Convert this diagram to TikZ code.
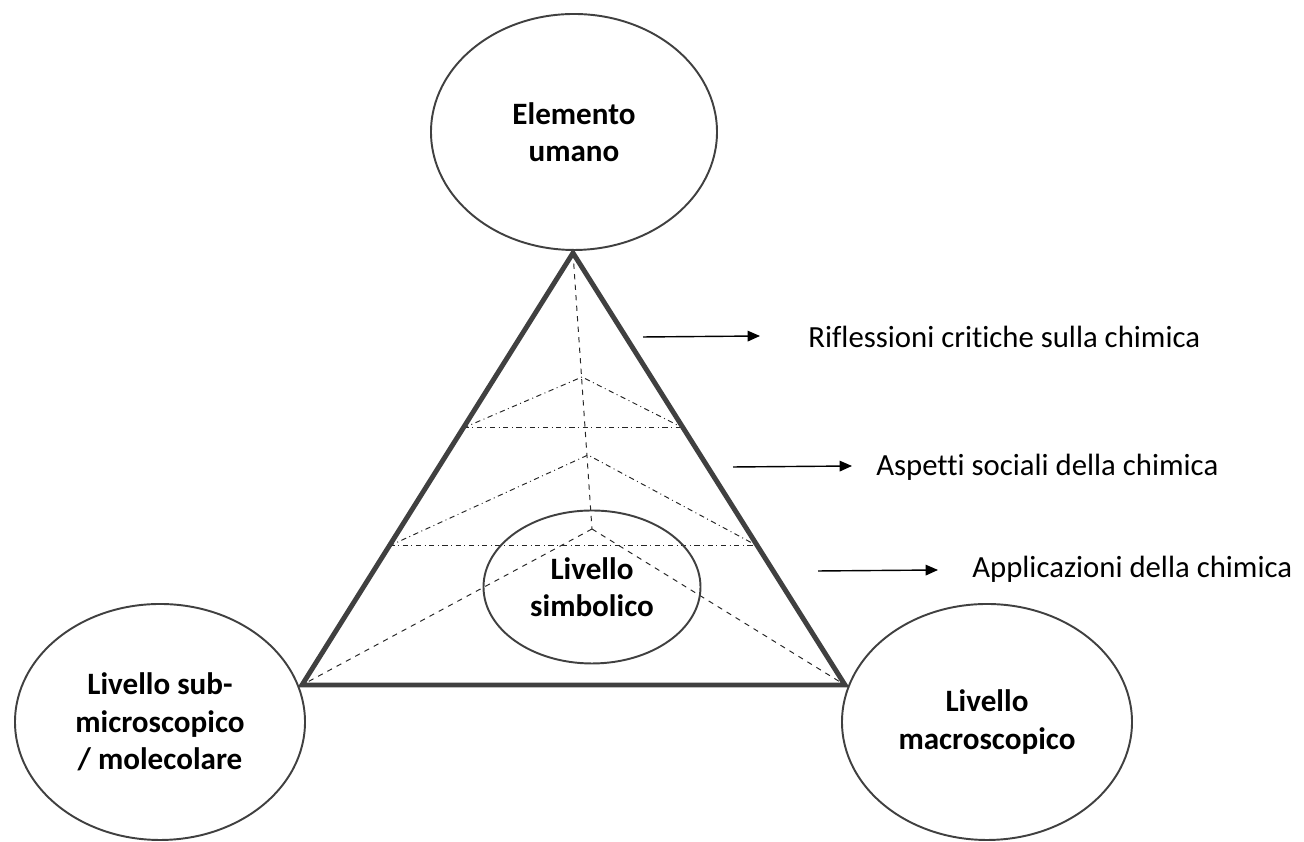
\documentclass[tikz,border=0pt]{standalone}
\usepackage{fontspec}
\setmainfont[Ligatures=NoCommon]{Carlito}
\usepackage{xcolor}
\usepackage{tikz}
\usetikzlibrary{arrows.meta}
\usetikzlibrary{shapes.geometric, calc}

\definecolor{linegray}{HTML}{404040}

\begin{document}
\begin{tikzpicture}[
    level/.style={ellipse, draw=linegray, line width=1.1pt, align=center,
        font=\fontsize{17.7}{21.2}\selectfont\bfseries},
    layer/.style={anchor=west, inner sep=0pt, font=\fontsize{17.5}{21}\selectfont},
    pointer/.style={-{Triangle[length=7pt,width=6pt]}, line width=0.8pt},
    guide/.style={line width=0.55pt, black!85},
    ]
                \useasboundingbox (0,0) rectangle (26.08,16.84);
                % Triangle corners
                \coordinate (A) at (11.46,11.78);
                \coordinate (L) at (6.04,3.14);
                \coordinate (R) at (16.90,3.14);
                % Inner points
                \coordinate (p1) at (11.64,9.30);
                \coordinate (p2) at (11.76,7.74);
                \coordinate (p3) at (11.84,6.26);
                % Dashed lines to corners
                \draw[guide, dashed] (A) -- (p3);
                \draw[guide, dashed] (p3) -- (L);
                \draw[guide, dashed] (p3) -- (R);
                % Layer 1
                \draw[guide, dash dot] ($(A)!0.405!(L)$) -- (p1) -- ($(A)!0.405!(R)$);
                \draw[guide, dash dot] ($(A)!0.405!(L)$) -- ($(A)!0.405!(R)$);
                % Layer 2
                \draw[guide, dash dot] ($(A)!0.678!(L)$) -- (p2) -- ($(A)!0.678!(R)$);
                \draw[guide, dash dot] ($(A)!0.678!(L)$) -- ($(A)!0.678!(R)$);
                % Triangle
                \draw[linegray, line width=2.8pt, line join=miter] (A) -- (L) -- (R) -- cycle;
                % Levels
                \node[level, minimum width=5.72cm, minimum height=4.72cm] (umano) at (11.48,14.20) {Elemento\\umano};
                \node[level, minimum width=5.80cm, minimum height=4.72cm] (sub) at (3.20,2.40) {Livello sub-\\microscopico\\/ molecolare};
                \node[level, minimum width=5.80cm, minimum height=4.72cm] (macro) at (19.74,2.40) {Livello\\macroscopico};
                \node[level, minimum width=4.34cm, minimum height=3.06cm] (simb) at (11.84,5.10) {Livello\\simbolico};
                % Arrows and labels
                \node[layer] (rifl) at (16.16,10.10) {Riflessioni critiche sulla chimica};
                \node[layer] (soc) at (17.52,7.50) {Aspetti sociali della chimica};
                \node[layer] (appl) at (19.44,5.46) {Applicazioni della chimica};
                \coordinate (s1) at (12.86,10.10);
                \coordinate (e1) at (15.20,10.12);
                \coordinate (s2) at (14.66,7.50);
                \coordinate (e2) at (17.04,7.52);
                \coordinate (s3) at (16.36,5.42);
                \coordinate (e3) at (18.76,5.44);
                \draw[pointer] (s1) -- (e1);
                \draw[pointer] (s2) -- (e2);
                \draw[pointer] (s3) -- (e3);
            \end{tikzpicture}
\end{document}
